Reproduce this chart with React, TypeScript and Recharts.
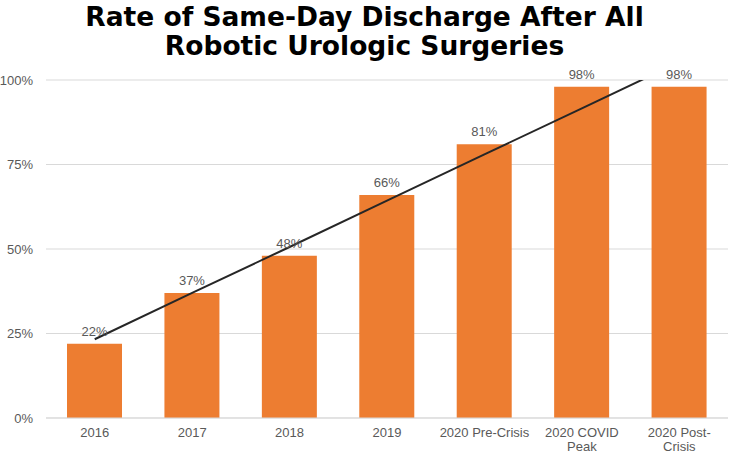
import { ComposedChart, Bar, Line, XAxis, YAxis, CartesianGrid, LabelList } from "recharts";

const categories = [
  "2016",
  "2017",
  "2018",
  "2019",
  "2020 Pre-Crisis",
  "2020 COVID\nPeak",
  "2020 Post-\nCrisis",
];
const discharge = [22, 37, 48, 66, 81, 98, 98];
// linear trend (goes past 100% and is clipped there)
const trend = [23.3, 37.0, 50.6, 64.3, 78.0, 91.6, 105.3];
const yTicks = [0, 25, 50, 75, 100];

const data = categories.map((name, i) => ({ name, value: discharge[i], trend: trend[i] }));

const FONT = "'Liberation Sans', Arial, sans-serif";
const GRAY = "#595959";

function CategoryTick(props: any) {
  const { x, y, payload } = props;
  const lines = String(payload.value).split("\n");
  return (
    <g transform={`translate(${x},${y})`}>
      {lines.map((ln: string, i: number) => (
        <text
          key={i}
          x={0}
          y={0}
          dy={11 + i * 13.5}
          textAnchor="middle"
          fill={GRAY}
          fontSize={13}
          fontFamily={FONT}
        >
          {ln}
        </text>
      ))}
    </g>
  );
}

export default function App() {
  return (
    <div style={{ position: "absolute", left: 0, top: 0, width: 729, height: 453, background: "#fff" }}>
      <div
        style={{
          position: "absolute",
          left: 0,
          top: 2,
          width: 729,
          textAlign: "center",
          fontFamily: "'DejaVu Sans', Verdana, sans-serif",
          fontWeight: "bold",
          fontSize: 26.5,
          lineHeight: "29px",
          color: "#000",
        }}
      >
        Rate of Same-Day Discharge After All
        <br />
        Robotic Urologic Surgeries
      </div>
      <ComposedChart
        width={729}
        height={453}
        data={data}
        margin={{ top: 80, right: 1, left: 0, bottom: 0 }}
      >
        <CartesianGrid vertical={false} stroke="#d9d9d9" />
        <XAxis
          dataKey="name"
          height={35}
          interval={0}
          axisLine={{ stroke: "#d9d9d9" }}
          tickLine={false}
          tick={<CategoryTick />}
        />
        <YAxis
          width={46}
          domain={[0, 100]}
          ticks={yTicks}
          allowDataOverflow
          axisLine={false}
          tickLine={false}
          tickSize={0}
          tickMargin={13}
          tickFormatter={(v: number) => `${v}%`}
          tick={{ fill: GRAY, fontSize: 13, fontFamily: FONT }}
        />
        <Bar dataKey="value" fill="#ED7D31" barSize={55} isAnimationActive={false}>
          <LabelList
            dataKey="value"
            position="top"
            offset={8}
            formatter={(v: any) => `${v}%`}
            fill={GRAY}
            fontSize={13}
            fontFamily={FONT}
          />
        </Bar>
        <Line
          type="linear"
          dataKey="trend"
          stroke="#262626"
          strokeWidth={2}
          dot={false}
          activeDot={false}
          isAnimationActive={false}
        />
      </ComposedChart>
    </div>
  );
}
